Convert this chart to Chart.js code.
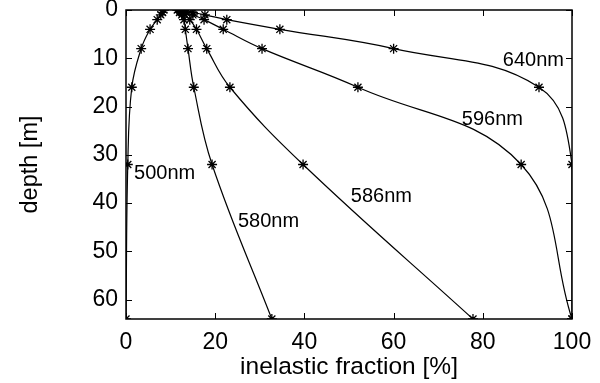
<!DOCTYPE html>
<html>
<head>
<meta charset="utf-8">
<script src="https://cdn.jsdelivr.net/npm/chart.js@4"></script>
<style>
  body { margin: 0; background: #fff; }
  #box { width: 600px; height: 383px; }
</style>
</head>
<body>
<div id="box"><canvas id="chart" width="600" height="383"></canvas></div>
<script>
// depths of the measured points [m]
var depths = [0, 0.5, 1, 2, 4, 8, 16, 32, 64];
// inelastic fraction [%] for each wavelength
var nm500 = [8.5, 8.2, 7.8, 7, 5.4, 3.4, 1.3, 0.4, 0];
var nm580 = [11.5, 12, 12.5, 13, 13.3, 13.9, 15.2, 19.3, 32.7];
var nm586 = [12, 12.5, 13.2, 14.3, 15.8, 18.1, 23.3, 39.7, 77.8];
var nm596 = [12.5, 13.5, 15, 17.5, 21.8, 30.5, 52, 88.6, 100];
var nm640 = [13, 15, 17.7, 22.6, 34.5, 60, 92.6, 100, 100];

// curve names and where they sit (data coordinates, left edge / middle)
var nomes = ["640nm", "596nm", "586nm", "580nm", "500nm"];
var nomeX = [84.5, 75.3, 50.4, 25.1, 1.8];
var nomeY = [10.4, 22.6, 38.7, 43.9, 33.8];

function serie(valores) {
    var pts = [];
    for (let i = 0; i < depths.length; i++) {
        pts[i] = { x: valores[i], y: depths[i] };
    }
    return pts;
}

function linha(nome, valores) {
    return {
        label: nome,
        data: serie(valores),
        showLine: true,
        tension: 0.4,
        borderColor: '#000',
        borderWidth: 1.2,
        pointStyle: 'star',
        pointRadius: 5,
        pointBorderColor: '#000',
        pointBorderWidth: 1.3,
        pointBackgroundColor: '#000'
    };
}

Chart.defaults.font.family = "'Liberation Sans', Arial, sans-serif";
Chart.defaults.color = '#000';

// box around the plot, inward ticks on all four sides, curve names
var moldura = {
    id: 'moldura',
    afterDraw: function (chart) {
        var ctx = chart.ctx;
        var a = chart.chartArea;
        var sx = chart.scales.x, sy = chart.scales.y;
        ctx.save();
        ctx.strokeStyle = '#000';
        ctx.lineWidth = 1.5;
        ctx.strokeRect(a.left, a.top, a.right - a.left, a.bottom - a.top);
        ctx.lineWidth = 1;
        ctx.beginPath();
        sx.ticks.forEach(function (t) {
            var px = Math.round(sx.getPixelForValue(t.value)) + 0.5;
            ctx.moveTo(px, a.bottom); ctx.lineTo(px, a.bottom - 6);
            ctx.moveTo(px, a.top); ctx.lineTo(px, a.top + 6);
        });
        sy.ticks.forEach(function (t) {
            var py = Math.round(sy.getPixelForValue(t.value)) + 0.5;
            ctx.moveTo(a.left, py); ctx.lineTo(a.left + 6, py);
            ctx.moveTo(a.right, py); ctx.lineTo(a.right - 6, py);
        });
        ctx.stroke();
        ctx.font = "20px 'Liberation Sans', Arial, sans-serif";
        ctx.fillStyle = '#000';
        ctx.textAlign = 'left';
        ctx.textBaseline = 'middle';
        for (let i = 0; i < nomes.length; i++) {
            ctx.fillText(nomes[i], sx.getPixelForValue(nomeX[i]), sy.getPixelForValue(nomeY[i]));
        }
        ctx.restore();
    }
};

new Chart(document.getElementById('chart'), {
    type: 'scatter',
    data: {
        datasets: [
            linha("500nm", nm500),
            linha("580nm", nm580),
            linha("586nm", nm586),
            linha("596nm", nm596),
            linha("640nm", nm640)
        ]
    },
    options: {
        responsive: false,
        animation: false,
        layout: { padding: { left: 0, right: 28, top: 10, bottom: 0 } },
        plugins: {
            legend: { display: false },
            tooltip: { enabled: false }
        },
        scales: {
            x: {
                min: 0,
                max: 100,
                grid: { display: false, drawTicks: false },
                border: { display: false },
                ticks: { stepSize: 20, padding: 10, font: { size: 23 } },
                title: {
                    display: true,
                    text: 'inelastic fraction [%]',
                    font: { size: 24.5 },
                    padding: { top: 0, bottom: 1 }
                },
                afterFit: function (scale) {
                    scale.height = 64;
                    scale.paddingLeft = 0;
                    scale.paddingRight = 0;
                }
            },
            y: {
                min: 0,
                max: 64,
                reverse: true,
                grid: { display: false, drawTicks: false },
                border: { display: false },
                ticks: { stepSize: 10, includeBounds: false, padding: 8, font: { size: 23 } },
                title: {
                    display: true,
                    text: 'depth [m]',
                    font: { size: 23.5 },
                    padding: { top: 16, bottom: 0 }
                },
                afterFit: function (scale) {
                    scale.width = 126;
                    scale.paddingTop = 0;
                    scale.paddingBottom = 0;
                }
            }
        }
    },
    plugins: [moldura]
});
</script>
</body>
</html>
